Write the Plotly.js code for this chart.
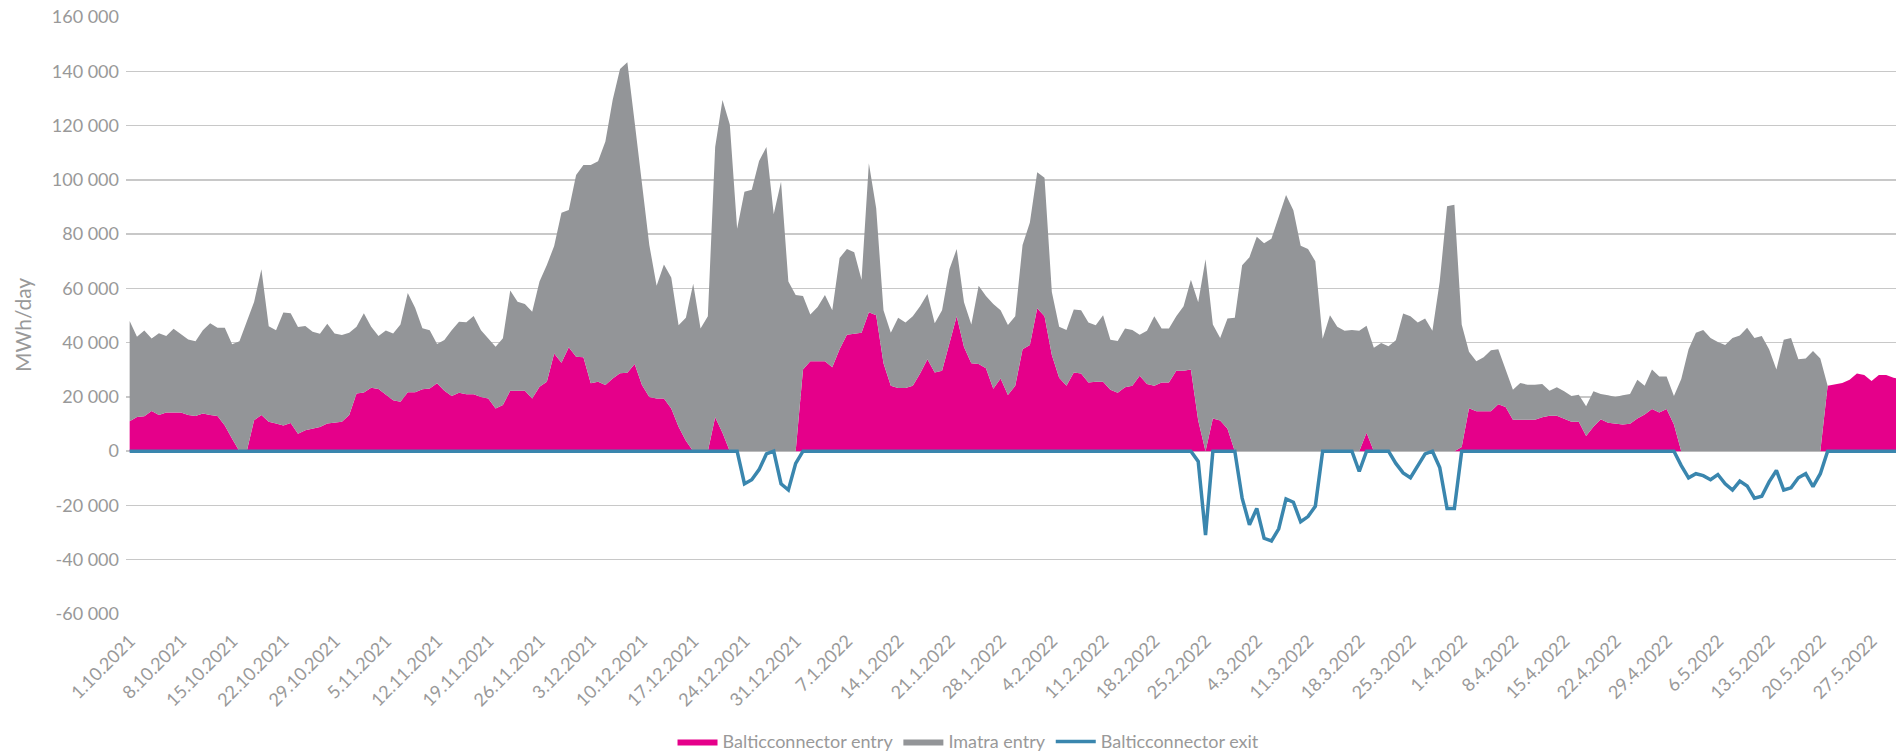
<!DOCTYPE html>
<html>
<head>
<meta charset="utf-8">
<script src="https://cdn.plot.ly/plotly-3.0.1.min.js"></script>
<style>
  html, body { margin: 0; padding: 0; background: #ffffff; }
  #chart { width: 1896px; height: 753px; }
</style>
</head>
<body>
<div id="chart"></div>
<script>
// ---- Data (daily, 1.10.2021 – 31.5.2022), MWh/day ----
var startDate = [2021, 10, 1];

var balticEntry = [
  11000,12600,12900,14800,13300,14300,14300,14300,13300,13000,
  13900,13300,13000,9500,4600,0,0,11400,13300,10800,
  10200,9500,10400,6400,7700,8300,8900,10200,10400,10800,
  13300,21300,21600,23400,22900,20700,18800,18200,21700,21700,
  22800,23100,25000,22300,20300,21500,21000,21000,20000,19400,
  15700,17000,22300,22300,22300,19400,23700,25600,36000,32600,
  38300,34800,34600,25000,25600,24400,26800,28700,28900,32100,
  24400,20000,19400,19400,15700,9000,3800,0,0,0,
  12500,6800,0,0,0,0,0,0,0,0,
  0,0,30100,33100,33100,33100,30900,37600,42900,43200,
  43600,51200,50100,32400,24100,23300,23300,24100,28600,33900,
  29000,29600,39900,49700,38400,32400,32100,30600,23000,26800,
  20700,24100,37600,39100,52700,49700,35400,27100,24100,29000,
  28600,25300,25600,25600,22600,21500,23600,24100,27800,24800,
  24100,25300,25300,29600,29600,30100,11300,0,12000,11300,
  8300,0,0,0,0,0,0,0,0,0,
  0,0,0,0,0,0,0,0,0,6800,
  0,0,0,0,0,0,0,0,0,0,
  0,0,1500,15800,14700,14700,14700,17300,16300,11600,
  11600,11600,11600,12500,13100,13100,12000,10800,10800,5600,
  9000,11800,10500,10200,9800,10100,12000,13500,15500,14300,
  15500,9800,0,0,0,0,0,0,0,0,
  0,0,0,0,0,0,0,0,0,0,
  0,0,24100,24500,25100,26300,28600,28100,25900,28100,
  28100,27100,26500
];

var imatraEntry = [
  37000,29600,31600,26700,30200,28100,30800,28700,27900,27500,
  30700,33800,32500,36000,34800,40500,48000,43600,53700,35200,
  34400,41600,40400,39400,38400,35700,34400,36800,33000,32000,
  30300,24600,29200,22500,19500,23800,24600,28500,36600,31200,
  22500,21500,14500,18700,24300,26200,26500,28800,24600,22200,
  22800,24600,36900,32800,31900,32000,38800,43000,39600,55300,
  50600,67000,70900,80500,81200,89700,102700,112100,114400,89100,
  73400,56000,41600,49400,48300,37400,45400,61700,45200,49700,
  99600,122600,120400,82000,95600,96300,106900,112100,87300,99300,
  62500,57600,27100,17300,20000,24500,21000,33600,31600,30100,
  19600,54900,39400,19500,19500,25900,24100,25600,24800,24000,
  18100,22300,27100,24800,16500,14300,28900,26600,31200,25100,
  25800,25600,38400,45200,50100,51100,23300,18800,20600,23200,
  23300,22100,20800,24500,18500,19100,21600,20600,15100,19600,
  25600,19900,19900,20100,23800,33100,43600,70700,34700,30400,
  40600,49200,68500,71500,79000,76600,78300,86500,94400,88800,
  75700,74500,70000,41400,50100,45900,44400,44700,44400,39400,
  38100,39900,38700,40900,50700,49700,47400,48900,44400,62500,
  90300,90800,45200,20800,18400,19900,22500,20300,13800,11000,
  13500,12900,12900,12300,9200,10500,10100,9500,10000,11000,
  13100,9300,10100,9800,10800,11000,14300,10600,14600,13200,
  12000,10500,26600,37600,43600,44700,41700,40200,39100,41700,
  42600,45500,41700,42400,37600,30100,41100,41700,33900,34200,
  36900,34200,0,0,0,0,0,0,0,0,
  0,0,0
];

var balticExit = [
  0,0,0,0,0,0,0,0,0,0,
  0,0,0,0,0,0,0,0,0,0,
  0,0,0,0,0,0,0,0,0,0,
  0,0,0,0,0,0,0,0,0,0,
  0,0,0,0,0,0,0,0,0,0,
  0,0,0,0,0,0,0,0,0,0,
  0,0,0,0,0,0,0,0,0,0,
  0,0,0,0,0,0,0,0,0,0,
  0,0,0,0,-12000,-10500,-6800,-1000,0,-12000,
  -14300,-4500,0,0,0,0,0,0,0,0,
  0,0,0,0,0,0,0,0,0,0,
  0,0,0,0,0,0,0,0,0,0,
  0,0,0,0,0,0,0,0,0,0,
  0,0,0,0,0,0,0,0,0,0,
  0,0,0,0,0,0,-3800,-30900,0,0,
  0,0,-17300,-27100,-21100,-32100,-33100,-28600,-17600,-18800,
  -26000,-24100,-20300,0,0,0,0,0,-7500,0,
  0,0,0,-4500,-8000,-9800,-5300,-1000,0,-6000,
  -21100,-21100,0,0,0,0,0,0,0,0,
  0,0,0,0,0,0,0,0,0,0,
  0,0,0,0,0,0,0,0,0,0,
  0,0,-5300,-9800,-8300,-9000,-10500,-8600,-12000,-14300,
  -11000,-12800,-17300,-16600,-11300,-7100,-14300,-13500,-9800,-8300,
  -13100,-8300,0,0,0,0,0,0,0,0,
  0,0,0
];

var tickLabels = [
  '1.10.2021','8.10.2021','15.10.2021','22.10.2021','29.10.2021',
  '5.11.2021','12.11.2021','19.11.2021','26.11.2021','3.12.2021',
  '10.12.2021','17.12.2021','24.12.2021','31.12.2021','7.1.2022',
  '14.1.2022','21.1.2022','28.1.2022','4.2.2022','11.2.2022',
  '18.2.2022','25.2.2022','4.3.2022','11.3.2022','18.3.2022',
  '25.3.2022','1.4.2022','8.4.2022','15.4.2022','22.4.2022',
  '29.4.2022','6.5.2022','13.5.2022','20.5.2022','27.5.2022'
];

var yTickVals = [-60000,-40000,-20000,0,20000,40000,60000,80000,100000,120000,140000,160000];
var yTickText = ['-60 000','-40 000','-20 000','0','20 000','40 000','60 000','80 000','100 000','120 000','140 000','160 000'];
var yTitle = 'MWh/day';

// ---- helpers ----
function pad(n){ return (n < 10 ? '0' : '') + n; }
function dayString(offset, hour) {
  var d = new Date(Date.UTC(startDate[0], startDate[1] - 1, startDate[2] + offset, hour));
  return d.getUTCFullYear() + '-' + pad(d.getUTCMonth() + 1) + '-' + pad(d.getUTCDate()) + ' ' + pad(d.getUTCHours()) + ':00';
}
var xDates = balticEntry.map(function(_, i){ return dayString(i, 12); });
var tickVals = tickLabels.map(function(_, i){ return dayString(i * 7, 0); });

var fontFam = 'Lato, "Open Sans", "DejaVu Sans", sans-serif';
var txtColor = '#999999';

var traces = [
  {
    x: xDates, y: balticEntry, name: 'Balticconnector entry',
    type: 'scatter', mode: 'lines', stackgroup: 'entry',
    line: { width: 0, color: '#E5008A' }, fillcolor: '#E5008A',
    hoverinfo: 'skip'
  },
  {
    x: xDates, y: imatraEntry, name: 'Imatra entry',
    type: 'scatter', mode: 'lines', stackgroup: 'entry',
    line: { width: 0, color: '#939598' }, fillcolor: '#939598',
    hoverinfo: 'skip'
  },
  {
    x: xDates, y: balticExit, name: 'Balticconnector exit',
    type: 'scatter', mode: 'lines',
    line: { width: 3.5, color: '#3A86AE' },
    hoverinfo: 'skip'
  }
];

var layout = {
  width: 1896, height: 753,
  paper_bgcolor: '#ffffff', plot_bgcolor: '#ffffff',
  margin: { l: 126, r: 0, t: 17, b: 139, pad: 0, autoexpand: false },
  font: { family: fontFam, size: 18, color: txtColor },
  showlegend: true,
  legend: {
    orientation: 'h', x: 0.476, xanchor: 'center', y: -0.214, yanchor: 'middle',
    font: { family: fontFam, size: 18, color: txtColor },
    traceorder: 'normal', itemwidth: 40
  },
  xaxis: {
    type: 'date',
    range: ['2021-10-01 00:00', '2022-05-30 20:10'],
    tickmode: 'array', tickvals: tickVals, ticktext: tickLabels,
    tickangle: -45, showgrid: false, zeroline: false, showline: false,
    ticks: '', ticklabelstandoff: 12, ticklabelshift: 4, automargin: false,
    tickfont: { family: fontFam, size: 18, color: txtColor },
    fixedrange: true
  },
  yaxis: {
    range: [-60000, 160000],
    tickmode: 'array', tickvals: yTickVals, ticktext: yTickText,
    showgrid: true, gridcolor: '#c8c8c8', gridwidth: 1.5,
    zeroline: false, showline: false, ticks: '', automargin: false,
    ticklabelstandoff: 6,
    tickfont: { family: fontFam, size: 18, color: txtColor },
    fixedrange: true
  },
  annotations: [{
    text: yTitle, textangle: -90, showarrow: false,
    xref: 'paper', yref: 'paper', x: -0.0588, y: 0.484,
    xanchor: 'center', yanchor: 'middle',
    font: { family: fontFam, size: 21, color: txtColor }
  }]
};

Plotly.newPlot('chart', traces, layout, { displayModeBar: false, staticPlot: true });
</script>
</body>
</html>
